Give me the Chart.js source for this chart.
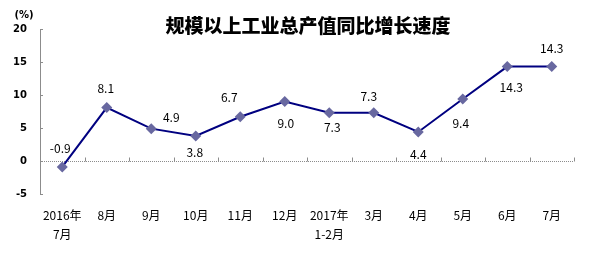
<!DOCTYPE html>
<html><head><meta charset="utf-8">
<script src="https://cdn.jsdelivr.net/npm/chart.js@4"></script>
<style>html,body{margin:0;padding:0;background:#fff;}#wrap{width:596px;height:253px;position:relative;}</style>
</head><body><div id="wrap"><canvas id="c" width="596" height="253"></canvas></div>
<script>
const categories = [['2016年','7月'],'8月','9月','10月','11月','12月',['2017年','1-2月'],'3月','4月','5月','6月','7月'];
const growth = [-0.9, 8.1, 4.9, 3.8, 6.7, 9.0, 7.3, 7.3, 4.4, 9.4, 14.3, 14.3];
const yTicks = [-5, 0, 5, 10, 15, 20];
const titleText = '规模以上工业总产值同比增长速度';
const unitText = '(%)';
// label offsets relative to each point (style only)
const labelOffsets = [[-2,-19],[-1,-19],[20,-11],[-1,17],[-11,-19],[1,22],[3,15],[-5,-16],[0,22],[-2,24],[4,21],[0,-18]];

const decor = {
  id: 'decor',
  beforeDatasetsDraw(chart) {
    const ctx = chart.ctx, x = chart.scales.x, y = chart.scales.y, a = chart.chartArea;
    ctx.save();
    const y0 = Math.round(y.getPixelForValue(0)) + 0.5;
    ctx.strokeStyle = '#8c8c8c'; ctx.lineWidth = 1;
    ctx.setLineDash([1,1]);
    ctx.beginPath(); ctx.moveTo(a.left, y0); ctx.lineTo(a.right, y0); ctx.stroke();
    ctx.setLineDash([]);
    const n = categories.length;
    const step = (a.right - a.left) / n;
    for (let i = 1; i <= n; i++) {
      const px = Math.round(a.left + step * i) + 0.5;
      ctx.beginPath(); ctx.moveTo(px, y0); ctx.lineTo(px, y0 - 4); ctx.stroke();
    }
    yTicks.forEach(v => {
      const py = Math.round(y.getPixelForValue(v)) + 0.5;
      ctx.beginPath(); ctx.moveTo(a.left, py); ctx.lineTo(a.left + 3, py); ctx.stroke();
    });
    ctx.restore();
  },
  afterDatasetsDraw(chart) {
    const ctx = chart.ctx;
    const meta = chart.getDatasetMeta(0);
    ctx.save();
    ctx.fillStyle = '#000';
    ctx.font = '12px "Noto Sans CJK SC", sans-serif';
    ctx.textAlign = 'center'; ctx.textBaseline = 'middle';
    meta.data.forEach((pt, i) => {
      const o = labelOffsets[i];
      ctx.fillText(growth[i].toFixed(1), pt.x + o[0], pt.y + o[1]);
    });
    ctx.font = '900 19px "Noto Sans CJK SC", sans-serif';
    ctx.fillText(titleText, 308, 26);
    ctx.font = 'bold 10px "DejaVu Sans", sans-serif';
    ctx.fillText(unitText, 24, 15);
    ctx.restore();
  }
};

new Chart(document.getElementById('c'), {
  type: 'line',
  data: {
    labels: categories,
    datasets: [{
      data: growth,
      borderColor: '#000080',
      borderWidth: 2,
      tension: 0,
      pointStyle: 'rectRot',
      pointRadius: 5.5,
      pointHoverRadius: 5.5,
      pointBackgroundColor: '#6868a0',
      pointBorderColor: '#6868a0',
      pointBorderWidth: 0
    }]
  },
  options: {
    responsive: false,
    animation: false,
    devicePixelRatio: 1,
    layout: { padding: { top: 29, right: 22, bottom: 0, left: 0 } },
    plugins: { legend: { display: false }, tooltip: { enabled: false }, title: { display: false } },
    scales: {
      x: {
        offset: true,
        grid: { display: false, drawTicks: false },
        border: { display: false },
        ticks: {
          padding: 12,
          color: '#000',
          maxRotation: 0,
          autoSkip: false,
          font: { family: '"Noto Sans CJK SC", sans-serif', size: 12, lineHeight: 1.6 }
        },
        afterFit: s => { s.height = 59; }
      },
      y: {
        min: -5, max: 20,
        afterBuildTicks: s => { s.ticks = yTicks.map(v => ({ value: v })); },
        grid: { display: false, drawTicks: false },
        border: { display: true, color: '#8c8c8c', width: 1 },
        ticks: {
          padding: 13,
          color: '#000',
          font: { family: '"DejaVu Sans", sans-serif', size: 10, weight: 'bold' }
        },
        afterFit: s => { s.width = 40; }
      }
    }
  },
  plugins: [decor]
});
</script></body></html>
